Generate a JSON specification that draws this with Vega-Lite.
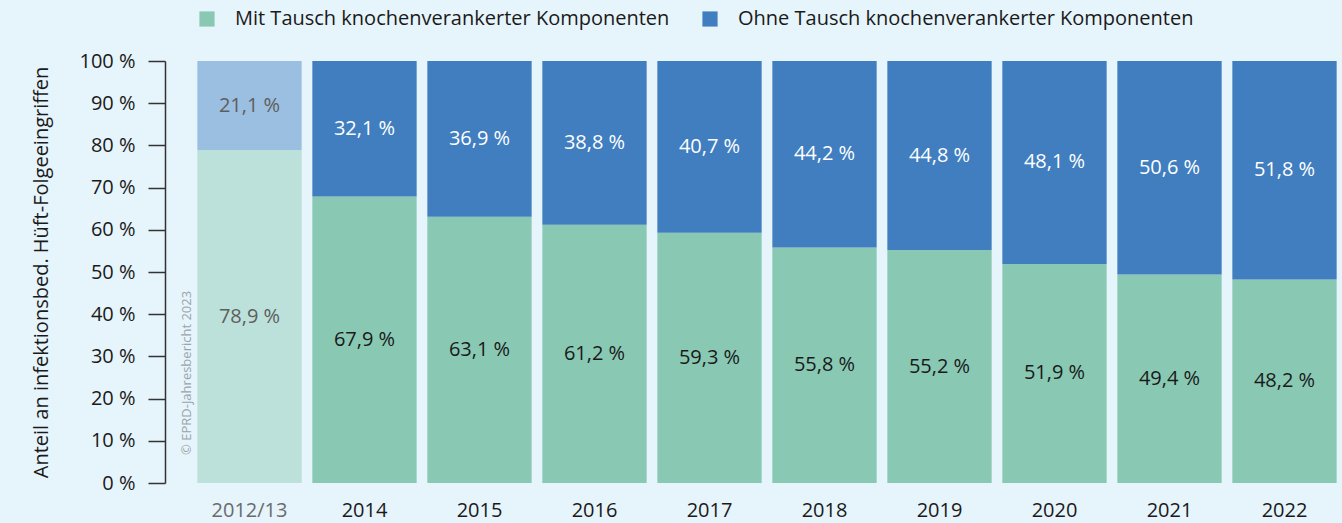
{
  "$schema": "https://vega.github.io/schema/vega-lite/v6.json",
  "width": 1150,
  "height": 422,
  "autosize": "none",
  "padding": {"left": 192, "top": 61, "right": 0, "bottom": 40},
  "background": "#e6f4fb",
  "config": {"view": {"stroke": null}, "font": "Open Sans"},
  "data": {
    "values": [
      {"year": "2012/13", "category": "Mit Tausch knochenverankerter Komponenten", "value": 78.9},
      {"year": "2012/13", "category": "Ohne Tausch knochenverankerter Komponenten", "value": 21.1},
      {"year": "2014", "category": "Mit Tausch knochenverankerter Komponenten", "value": 67.9},
      {"year": "2014", "category": "Ohne Tausch knochenverankerter Komponenten", "value": 32.1},
      {"year": "2015", "category": "Mit Tausch knochenverankerter Komponenten", "value": 63.1},
      {"year": "2015", "category": "Ohne Tausch knochenverankerter Komponenten", "value": 36.9},
      {"year": "2016", "category": "Mit Tausch knochenverankerter Komponenten", "value": 61.2},
      {"year": "2016", "category": "Ohne Tausch knochenverankerter Komponenten", "value": 38.8},
      {"year": "2017", "category": "Mit Tausch knochenverankerter Komponenten", "value": 59.3},
      {"year": "2017", "category": "Ohne Tausch knochenverankerter Komponenten", "value": 40.7},
      {"year": "2018", "category": "Mit Tausch knochenverankerter Komponenten", "value": 55.8},
      {"year": "2018", "category": "Ohne Tausch knochenverankerter Komponenten", "value": 44.2},
      {"year": "2019", "category": "Mit Tausch knochenverankerter Komponenten", "value": 55.2},
      {"year": "2019", "category": "Ohne Tausch knochenverankerter Komponenten", "value": 44.8},
      {"year": "2020", "category": "Mit Tausch knochenverankerter Komponenten", "value": 51.9},
      {"year": "2020", "category": "Ohne Tausch knochenverankerter Komponenten", "value": 48.1},
      {"year": "2021", "category": "Mit Tausch knochenverankerter Komponenten", "value": 49.4},
      {"year": "2021", "category": "Ohne Tausch knochenverankerter Komponenten", "value": 50.6},
      {"year": "2022", "category": "Mit Tausch knochenverankerter Komponenten", "value": 48.2},
      {"year": "2022", "category": "Ohne Tausch knochenverankerter Komponenten", "value": 51.8}
    ]
  },
  "transform": [
    {"stack": "value", "groupby": ["year"], "sort": [{"field": "category", "order": "ascending"}], "as": ["v0", "v1"]},
    {"calculate": "(datum.v0 + datum.v1) / 2", "as": "mid"},
    {"calculate": "replace(format(datum.value, '.1f'), '.', ',') + ' %'", "as": "label"}
  ],
  "encoding": {
    "x": {
      "field": "year",
      "type": "nominal",
      "sort": null,
      "scale": {"paddingInner": 0.093, "paddingOuter": 0.0465},
      "axis": {
        "title": null,
        "domain": false,
        "ticks": false,
        "labelAngle": 0,
        "labelFontSize": 20,
        "labelPadding": 17,
        "labelColor": {"condition": {"test": "datum.value === '2012/13'", "value": "#6b6b6b"}, "value": "#1a1a1a"}
      }
    }
  },
  "layer": [
    {
      "mark": {"type": "bar"},
      "encoding": {
        "y": {
          "field": "v0",
          "type": "quantitative",
          "scale": {"domain": [0, 100]},
          "axis": {
            "title": "Anteil an infektionsbed. Hüft-Folgeeingriffen",
            "values": [0, 10, 20, 30, 40, 50, 60, 70, 80, 90, 100],
            "labelExpr": "datum.value + ' %'",
            "grid": false,
            "offset": 27,
            "tickSize": 17,
            "tickWidth": 1.5,
            "tickColor": "#333333",
            "domainColor": "#333333",
            "domainWidth": 1.5,
            "labelPadding": 13,
            "labelFontSize": 20,
            "labelColor": "#1a1a1a",
            "titleFontSize": 20,
            "titleFontWeight": "normal",
            "titleColor": "#1a1a1a",
            "titlePadding": 27
          }
        },
        "y2": {"field": "v1"},
        "color": {
          "field": "category",
          "type": "nominal",
          "scale": {
            "domain": ["Mit Tausch knochenverankerter Komponenten", "Ohne Tausch knochenverankerter Komponenten"],
            "range": ["#89c9b4", "#407ec0"]
          },
          "legend": {
            "orient": "none",
            "legendX": 5,
            "legendY": -52,
            "direction": "horizontal",
            "title": null,
            "symbolType": "square",
            "symbolSize": 230,
            "symbolStrokeWidth": 0,
            "symbolOpacity": 1,
            "labelFontSize": 20,
            "labelOffset": 18,
            "columnPadding": 30,
            "labelColor": "#1a1a1a",
            "labelLimit": 600
          }
        },
        "opacity": {"condition": {"test": "datum.year === '2012/13'", "value": 0.45}, "value": 1}
      }
    },
    {
      "mark": {"type": "text", "fontSize": 20},
      "encoding": {
        "y": {
          "field": "mid",
          "type": "quantitative",
          "axis": {
            "title": "Anteil an infektionsbed. Hüft-Folgeeingriffen",
            "values": [0, 10, 20, 30, 40, 50, 60, 70, 80, 90, 100],
            "labelExpr": "datum.value + ' %'",
            "grid": false,
            "offset": 27,
            "tickSize": 17,
            "tickWidth": 1.5,
            "tickColor": "#333333",
            "domainColor": "#333333",
            "domainWidth": 1.5,
            "labelPadding": 13,
            "labelFontSize": 20,
            "labelColor": "#1a1a1a",
            "titleFontSize": 20,
            "titleFontWeight": "normal",
            "titleColor": "#1a1a1a",
            "titlePadding": 27
          }
        },
        "text": {"field": "label"},
        "color": {
          "condition": [
            {"test": "datum.year === '2012/13'", "value": "#5e5e5e"},
            {"test": "datum.category === 'Mit Tausch knochenverankerter Komponenten'", "value": "#1a1a1a"}
          ],
          "value": "#ffffff"
        }
      }
    },
    {
      "transform": [{"filter": "datum.year === '2012/13' && datum.category === 'Mit Tausch knochenverankerter Komponenten'"}],
      "mark": {"type": "text", "angle": 270, "align": "left", "baseline": "middle", "fontSize": 13, "color": "#9aa4aa", "dx": 28, "xOffset": -63},
      "encoding": {
        "y": {
          "field": "v0",
          "type": "quantitative",
          "axis": {
            "title": "Anteil an infektionsbed. Hüft-Folgeeingriffen",
            "values": [0, 10, 20, 30, 40, 50, 60, 70, 80, 90, 100],
            "labelExpr": "datum.value + ' %'",
            "grid": false,
            "offset": 27,
            "tickSize": 17,
            "tickWidth": 1.5,
            "tickColor": "#333333",
            "domainColor": "#333333",
            "domainWidth": 1.5,
            "labelPadding": 13,
            "labelFontSize": 20,
            "labelColor": "#1a1a1a",
            "titleFontSize": 20,
            "titleFontWeight": "normal",
            "titleColor": "#1a1a1a",
            "titlePadding": 27
          }
        },
        "text": {"value": "© EPRD-Jahresbericht 2023"}
      }
    }
  ]
}
